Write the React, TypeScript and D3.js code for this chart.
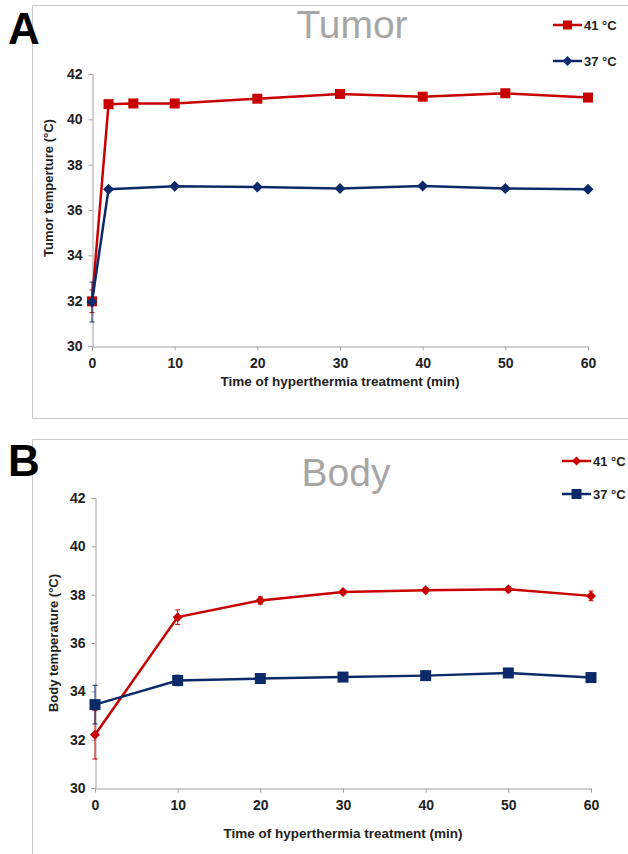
import { useEffect, useRef } from 'react';
import * as d3 from 'd3';

// Panel A: tumor temperature
const tumorTime41 = [0, 2, 5, 10, 20, 30, 40, 50, 60];
const tumor41 = [31.97, 40.67, 40.7, 40.7, 40.91, 41.12, 41.0, 41.15, 40.96];
const tumor41Err = [0.5, 0.1, 0.1, 0.1, 0.1, 0.1, 0.1, 0.1, 0.1];
const tumorTime37 = [0, 2, 10, 20, 30, 40, 50, 60];
const tumor37 = [31.94, 36.92, 37.05, 37.01, 36.95, 37.06, 36.95, 36.92];
const tumor37Err = [0.88, 0.08, 0.08, 0.08, 0.08, 0.08, 0.08, 0.08];

// Panel B: body temperature
const bodyTime = [0, 10, 20, 30, 40, 50, 60];
const body41 = [32.2, 37.07, 37.76, 38.11, 38.18, 38.22, 37.95];
const body41Err = [1.0, 0.3, 0.15, 0.1, 0.1, 0.1, 0.2];
const body37 = [33.45, 34.45, 34.53, 34.59, 34.65, 34.76, 34.57];
const body37Err = [0.8, 0.22, 0.15, 0.12, 0.1, 0.1, 0.12];

const xTicks = [0, 10, 20, 30, 40, 50, 60];
const yTicks = [30, 32, 34, 36, 38, 40, 42];
const seriesLabels = ['41 °C', '37 °C'];

const RED = '#c80000';
const BLUE = '#0c2a6a';
const FONT = '"Liberation Sans", Arial, sans-serif';

type Series = { t: number[]; v: number[]; e: number[]; color: string; marker: 'square' | 'diamond'; size: number };

type Panel = {
  letter: string;
  title: string;
  yTitle: string;
  frameTop: number;
  frameBottom: number;
  x0: number;
  x1: number;
  yTop: number;
  yBot: number;
  titleX: number;
  titleY: number;
  letterY: number;
  yTitleX: number;
  yTitleY: number;
  xLabelY: number;
  xTitleY: number;
  legendX: number;
  legendY: number[];
  series: Series[];
};

const panels: Panel[] = [
  {
    letter: 'A', title: 'Tumor', yTitle: 'Tumor temperture (°C)',
    frameTop: 5, frameBottom: 418,
    x0: 92, x1: 588, yTop: 74, yBot: 346,
    titleX: 352, titleY: 38, letterY: 44,
    yTitleX: 53, yTitleY: 188, xLabelY: 367, xTitleY: 386,
    legendX: 553, legendY: [25, 61],
    series: [
      { t: tumorTime41, v: tumor41, e: tumor41Err, color: RED, marker: 'square', size: 10 },
      { t: tumorTime37, v: tumor37, e: tumor37Err, color: BLUE, marker: 'diamond', size: 9 },
    ],
  },
  {
    letter: 'B', title: 'Body', yTitle: 'Body temperature (°C)',
    frameTop: 439, frameBottom: 860,
    x0: 95, x1: 591, yTop: 498, yBot: 788,
    titleX: 346, titleY: 486, letterY: 476,
    yTitleX: 58, yTitleY: 643, xLabelY: 809, xTitleY: 838,
    legendX: 562, legendY: [461, 494],
    series: [
      { t: bodyTime, v: body41, e: body41Err, color: RED, marker: 'diamond', size: 8 },
      { t: bodyTime, v: body37, e: body37Err, color: BLUE, marker: 'square', size: 11 },
    ],
  },
];

function drawMarker(g: any, kind: string, cx: number, cy: number, size: number, color: string) {
  if (kind === 'square') {
    g.append('rect')
      .attr('x', cx - size / 2).attr('y', cy - size / 2)
      .attr('width', size).attr('height', size)
      .attr('fill', color);
  } else {
    const h = size / 2 + 1;
    g.append('path')
      .attr('d', `M${cx},${cy - h}L${cx + h},${cy}L${cx},${cy + h}L${cx - h},${cy}Z`)
      .attr('fill', color);
  }
}

const App = () => {
  const ref = useRef<SVGSVGElement>(null);

  useEffect(() => {
    const svg = d3.select(ref.current);
    svg.selectAll('*').remove();

    panels.forEach(p => {
      const g = svg.append('g');

      // frame
      g.append('path')
        .attr('d', `M628,${p.frameTop + 0.5}H32.5V${p.frameBottom + 0.5}H628`)
        .attr('fill', 'none').attr('stroke', '#c8c8c8').attr('stroke-width', 1);

      g.append('text').text(p.letter)
        .attr('x', 8).attr('y', p.letterY)
        .attr('font-family', FONT).attr('font-weight', 'bold').attr('font-size', 44)
        .attr('fill', '#000');

      g.append('text').text(p.title)
        .attr('x', p.titleX).attr('y', p.titleY).attr('text-anchor', 'middle')
        .attr('font-family', FONT).attr('font-size', 39).attr('fill', '#a6a6a6');

      const x = d3.scaleLinear().domain([0, 60]).range([p.x0, p.x1]);
      const y = d3.scaleLinear().domain([30, 42]).range([p.yBot, p.yTop]);

      // axes
      const yAxis = g.append('g')
        .attr('transform', `translate(${p.x0 + 0.5},0)`)
        .call(d3.axisLeft(y).tickValues(yTicks).tickSize(4).tickSizeOuter(4).tickPadding(6).tickFormat(d3.format('d')));
      const xAxis = g.append('g')
        .attr('transform', `translate(0,${p.yBot + 0.5})`)
        .call(d3.axisBottom(x).tickValues(xTicks).tickSize(4).tickSizeOuter(0).tickPadding(6).tickFormat(d3.format('d')));
      [yAxis, xAxis].forEach(a => {
        a.select('.domain').attr('stroke', '#a0a0a0');
        a.selectAll('line').attr('stroke', '#a0a0a0');
        a.selectAll('text')
          .attr('font-family', FONT).attr('font-weight', 'bold').attr('font-size', 14)
          .attr('fill', '#222');
      });
      xAxis.selectAll('text').attr('dy', null).attr('y', null)
        .attr('transform', `translate(0,${p.xLabelY - p.yBot})`);

      g.append('text').text('Time of hyperthermia treatment (min)')
        .attr('x', (p.x0 + p.x1) / 2).attr('y', p.xTitleY).attr('text-anchor', 'middle')
        .attr('font-family', FONT).attr('font-weight', 'bold').attr('font-size', 13.5).attr('fill', '#222');

      g.append('text').text(p.yTitle)
        .attr('transform', `translate(${p.yTitleX},${p.yTitleY}) rotate(-90)`)
        .attr('text-anchor', 'middle')
        .attr('font-family', FONT).attr('font-weight', 'bold').attr('font-size', 13).attr('fill', '#222');

      // series
      p.series.forEach((s, i) => {
        const pts = s.t.map((t, k) => ({ t, v: s.v[k], e: s.e[k] }));
        const sg = g.append('g');
        pts.forEach(d => {
          const cx = x(d.t);
          sg.append('line')
            .attr('x1', cx).attr('x2', cx)
            .attr('y1', y(d.v - d.e)).attr('y2', y(d.v + d.e))
            .attr('stroke', s.color).attr('stroke-width', 1);
          [d.v - d.e, d.v + d.e].forEach(ev => {
            sg.append('line')
              .attr('x1', cx - 2.5).attr('x2', cx + 2.5)
              .attr('y1', y(ev)).attr('y2', y(ev))
              .attr('stroke', s.color).attr('stroke-width', 1);
          });
        });
        sg.append('path')
          .datum(pts)
          .attr('d', d3.line<any>().x(d => x(d.t)).y(d => y(d.v)))
          .attr('fill', 'none').attr('stroke', s.color).attr('stroke-width', 2.5);
        pts.forEach(d => drawMarker(sg, s.marker, x(d.t), y(d.v), s.size, s.color));

        // legend
        const ly = p.legendY[i];
        g.append('line')
          .attr('x1', p.legendX).attr('x2', p.legendX + 29)
          .attr('y1', ly).attr('y2', ly)
          .attr('stroke', s.color).attr('stroke-width', 2.5);
        drawMarker(g, s.marker, p.legendX + 14.5, ly, s.size - 1, s.color);
        g.append('text').text(seriesLabels[i])
          .attr('x', p.legendX + 31).attr('y', ly + 4.5)
          .attr('font-family', FONT).attr('font-weight', 'bold').attr('font-size', 13).attr('fill', '#222');
      });
    });
  }, []);

  return (
    <div style={{ position: 'absolute', left: 0, top: 0 }}>
      <svg ref={ref} width={628} height={854} style={{ display: 'block', background: '#fff' }} />
    </div>
  );
};

export default App;
